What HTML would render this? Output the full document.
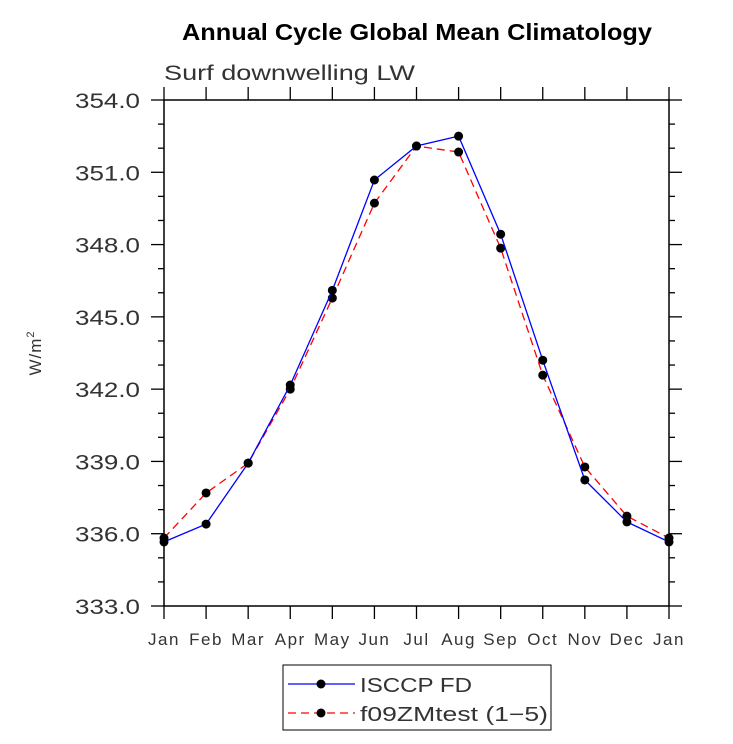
<!DOCTYPE html>
<html><head><meta charset="utf-8"><style>
body{margin:0;background:#fff;width:733px;height:739px;overflow:hidden}
svg text{font-family:"Liberation Sans",sans-serif}
</style></head><body>
<svg id="c" width="733" height="739">
<text x="182" y="40" textLength="470" lengthAdjust="spacingAndGlyphs" font-size="23" font-weight="bold">Annual Cycle Global Mean Climatology</text>
<text x="164" y="80" textLength="251" lengthAdjust="spacingAndGlyphs" font-size="21" fill="#333">Surf downwelling LW</text>
<text transform="translate(41,353) rotate(-90)" text-anchor="middle" font-size="17" fill="#333" letter-spacing="1">W/m<tspan dy="-7" font-size="11">2</tspan></text>
<g id="axes"></g>
<g id="marks"></g>
<g>
<rect x="283" y="665" width="268" height="65" fill="#fff" stroke="#000" stroke-width="1"/>
<line x1="288" y1="684" x2="355" y2="684" stroke="#00f" stroke-width="1.3"/>
<circle cx="321" cy="684" r="4.5" fill="#000"/>
<text x="360" y="692" textLength="112" lengthAdjust="spacingAndGlyphs" font-size="20" fill="#333">ISCCP FD</text>
<line x1="288" y1="713" x2="355" y2="713" stroke="#f00" stroke-width="1.3" stroke-dasharray="8,5"/>
<circle cx="321" cy="713" r="4.5" fill="#000"/>
<text x="360" y="721" textLength="188" lengthAdjust="spacingAndGlyphs" font-size="20" fill="#333">f09ZMtest (1−5)</text>
</g>
</svg>
<script>
const months=["Jan","Feb","Mar","Apr","May","Jun","Jul","Aug","Sep","Oct","Nov","Dec","Jan"];
const obsValues=[335.66,336.4,338.93,342.17,346.1,350.68,352.09,352.5,348.43,343.2,338.23,336.49,335.66];
const modelValues=[335.82,337.69,338.93,342.0,345.78,349.72,352.09,351.84,347.85,342.58,338.77,336.73,335.82];
const yTicks=[333,336,339,342,345,348,351,354];
const X0=164,X1=669,Y0=606,Y1=100,YMIN=333,YMAX=354;
const xs=i=>X0+(X1-X0)*i/(months.length-1);
const ys=v=>Y0-(v-YMIN)/(YMAX-YMIN)*(Y0-Y1);
const NS="http://www.w3.org/2000/svg";
function mk(t,a,p){const e=document.createElementNS(NS,t);for(const k in a)e.setAttribute(k,a[k]);p.appendChild(e);return e;}
const ax=document.getElementById('axes'),mg=document.getElementById('marks');
const box=mk('rect',{x:X0,y:Y1,width:X1-X0,height:Y0-Y1,fill:'none',stroke:'#000','stroke-width':1.5},ax);


months.forEach((m,i)=>{const x=xs(i);
mk('line',{x1:x,y1:Y0,x2:x,y2:Y0+13,stroke:'#000','stroke-width':1.3},ax);
mk('line',{x1:x,y1:Y1,x2:x,y2:Y1-13,stroke:'#000','stroke-width':1.3},ax);
const t=mk('text',{x:x,y:Y0+39,'text-anchor':'middle','font-size':17,fill:'#333','letter-spacing':1.5},ax);t.textContent=m;

});
for(let v=YMIN;v<=YMAX+1e-9;v+=1){const y=ys(v);const maj=yTicks.includes(v);const L=maj?13:6;
mk('line',{x1:X0,y1:y,x2:X0-L,y2:y,stroke:'#000','stroke-width':1.3},ax);
mk('line',{x1:X1,y1:y,x2:X1+L,y2:y,stroke:'#000','stroke-width':1.3},ax);}
yTicks.forEach(v=>{const t=mk('text',{x:X0-89,y:ys(v)+8,'font-size':21,fill:'#333',textLength:65,lengthAdjust:'spacingAndGlyphs'},ax);t.textContent=v.toFixed(1);

});
function series(vals,color,dash,name){
const pl=mk('polyline',{points:vals.map((v,i)=>xs(i)+','+ys(v)).join(' '),fill:'none',stroke:color,'stroke-width':1.3,'stroke-dasharray':dash},mg);


vals.forEach((v,i)=>{const c=mk('circle',{cx:xs(i),cy:ys(v),r:4.5,fill:'#000'},mg);

});}
series(modelValues,'#f00','8,5','model');
series(obsValues,'#00f','none','obs');
</script>
</body></html>
